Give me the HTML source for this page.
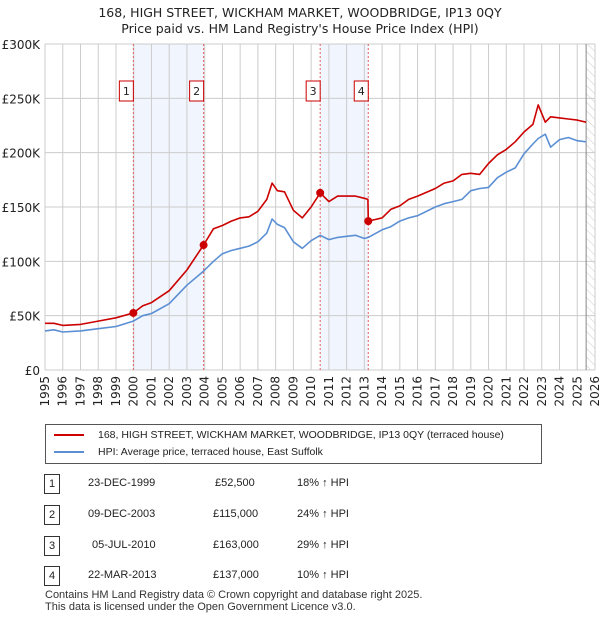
<!DOCTYPE html>
<html><head><meta charset="utf-8"><style>
body{margin:0;background:#fff;font-family:"Liberation Sans","DejaVu Sans",sans-serif;}
#wrap{position:relative;width:600px;height:620px;overflow:hidden;}
svg text{font-family:"DejaVu Sans","Liberation Sans",sans-serif;}
.tbl span{white-space:nowrap;}
</style></head><body>
<div id="wrap">
<svg id="svg" width="600" height="620"></svg>
</div>
<script>
const hpiYears=[1995,1995.5,1996,1997,1998,1999,1999.98,2000.5,2001,2002,2003,2003.94,2004.5,2005,2005.5,2006,2006.5,2007,2007.5,2007.8,2008.1,2008.5,2009,2009.5,2010,2010.51,2011,2011.5,2012,2012.5,2013,2013.22,2014,2014.5,2015,2015.5,2016,2017,2017.5,2018,2018.5,2019,2019.5,2020,2020.5,2021,2021.5,2022,2022.5,2022.8,2023.2,2023.5,2024,2024.5,2025,2025.5];
const hpiValues=[36,37,35,36,38,40,45,50,52,61,78,91,100,107,110,112,114,118,126,139,134,131,118,112,119,124,120,122,123,124,121,122,129,132,137,140,142,150,153,155,157,165,167,168,177,182,186,199,208,213,217,205,212,214,211,210];
const ppYears=[1995,1995.5,1996,1997,1998,1999,1999.98,2000.5,2001,2002,2003,2003.94,2004.5,2005,2005.5,2006,2006.5,2007,2007.5,2007.8,2008.1,2008.5,2009,2009.5,2010,2010.51,2011,2011.5,2012,2012.5,2013,2013.2,2013.22,2014,2014.5,2015,2015.5,2016,2017,2017.5,2018,2018.5,2019,2019.5,2020,2020.5,2021,2021.5,2022,2022.5,2022.8,2023.2,2023.5,2024,2024.5,2025,2025.5];
const ppValues=[43,43,41,42,45,48,52.5,59,62,73,92,115,130,133,137,140,141,146,157,172,165,164,147,140,150,163,155,160,160,160,158,157,137,140,148,151,157,160,167,172,174,180,181,180,190,198,203,210,219,226,244,228,233,232,231,230,228];
const saleYears=[1999.98,2003.94,2010.51,2013.22];
const saleValues=[52.5,115,163,137];
const saleLabels=["1","2","3","4"];
const yTicks=[0,50,100,150,200,250,300];
const yTickLabels=["£0","£50K","£100K","£150K","£200K","£250K","£300K"];
const xTicks=[1995,1996,1997,1998,1999,2000,2001,2002,2003,2004,2005,2006,2007,2008,2009,2010,2011,2012,2013,2014,2015,2016,2017,2018,2019,2020,2021,2022,2023,2024,2025,2026];

const L=45,R=595,T=44,B=370;
const X=y=>L+(y-1995)/(2026-1995)*(R-L);
const Y=v=>B-v/300*(B-T);
const svg=document.getElementById('svg');
const NS='http://www.w3.org/2000/svg';
function mk(tag,attrs,parent){const e=document.createElementNS(NS,tag);for(const k in attrs)e.setAttribute(k,attrs[k]);(parent||svg).appendChild(e);return e;}

let t=mk('text',{x:300,y:17,'text-anchor':'middle','font-size':'12.5',fill:'#222'});t.textContent="168, HIGH STREET, WICKHAM MARKET, WOODBRIDGE, IP13 0QY";

t=mk('text',{x:300,y:33,'text-anchor':'middle','font-size':'12.5',fill:'#222'});t.textContent="Price paid vs. HM Land Registry's House Price Index (HPI)";


for(let i=0;i<4;i+=2){const r=mk('rect',{x:X(saleYears[i]),y:T,width:X(saleYears[i+1])-X(saleYears[i]),height:B-T,fill:'#eef3fd',opacity:0.8});
}
const defs=mk('defs',{});const pat=mk('pattern',{id:'h',width:6,height:6,patternUnits:'userSpaceOnUse',patternTransform:'rotate(-45)'},defs);
mk('line',{x1:0,y1:0,x2:0,y2:6,stroke:'#ccc','stroke-width':1},pat);
const hx=X(2025.5);
let hr=mk('rect',{x:hx,y:T,width:R-hx,height:B-T,fill:'url(#h)'});

xTicks.forEach(y=>{const l=mk('line',{x1:X(y),x2:X(y),y1:T,y2:B,stroke:'#ccc','stroke-width':1});
const tx=mk('text',{transform:`translate(${X(y)+4},${B+6}) rotate(-90)`,'text-anchor':'end','font-size':'12',fill:'#222'});tx.textContent=y;
});
yTicks.forEach((v,i)=>{const l=mk('line',{x1:L,x2:R,y1:Y(v),y2:Y(v),stroke:'#ccc','stroke-width':1});
const tx=mk('text',{x:40,y:Y(v)+5,'text-anchor':'end','font-size':'12',fill:'#222'});tx.textContent=yTickLabels[i];
});
let vl=mk('line',{x1:hx,x2:hx,y1:T,y2:B,stroke:'#888','stroke-width':1});

saleYears.forEach(y=>{const l=mk('line',{x1:X(y),x2:X(y),y1:T,y2:B,stroke:'#e06060','stroke-width':1,'stroke-dasharray':'2,2'});
});

function path(xs,vs,color,name){const d=xs.map((y,i)=>(i?'L':'M')+X(y).toFixed(1)+','+Y(vs[i]).toFixed(1)).join('');
const p=mk('path',{d,fill:'none',stroke:color,'stroke-width':1.6,'stroke-linejoin':'round'});}
path(hpiYears,hpiValues,'#5b8fd4','hpi-line');
path(ppYears,ppValues,'#cc0000','price-paid-line');

saleYears.forEach((y,i)=>{const c=mk('circle',{cx:X(y),cy:Y(saleValues[i]),r:4,fill:'#cc0000'});
const xo=-7;
const g=mk('g',{});
mk('rect',{x:X(y)+xo-7,y:81,width:14,height:20,fill:'#fff',stroke:'#cc0000','stroke-width':1},g);
const tt=mk('text',{x:X(y)+xo,y:95,'text-anchor':'middle','font-size':'11',fill:'#222'},g);tt.textContent=saleLabels[i];});
</script>
<div style="position:absolute;left:45px;top:424px;width:495px;height:38px;border:1px solid #555;font-size:10.5px;color:#222;white-space:nowrap;">
 <div style="position:absolute;left:8px;top:4px;"><span style="display:inline-block;width:30px;height:2px;background:#cc0000;vertical-align:middle;margin-right:14px"></span>168, HIGH STREET, WICKHAM MARKET, WOODBRIDGE, IP13 0QY (terraced house)</div>
 <div style="position:absolute;left:8px;top:21px;"><span style="display:inline-block;width:30px;height:2px;background:#5b8fd4;vertical-align:middle;margin-right:14px"></span>HPI: Average price, terraced house, East Suffolk</div>
</div>
<div class="tbl" style="position:absolute;left:0;top:0;width:600px;font-size:11px;color:#222;">
 <div>
  <span style="position:absolute;left:44px;top:474px;width:14px;height:18px;border:1px solid #333;text-align:center;line-height:18px">1</span>
  <span style="position:absolute;left:88px;top:477px">23-DEC-1999</span><span style="position:absolute;left:215px;top:477px">£52,500</span><span style="position:absolute;left:297px;top:477px">18% ↑ HPI</span></div>
 <div>
  <span style="position:absolute;left:44px;top:505px;width:14px;height:18px;border:1px solid #333;text-align:center;line-height:18px">2</span>
  <span style="position:absolute;left:88px;top:508px">09-DEC-2003</span><span style="position:absolute;left:213px;top:508px">£115,000</span><span style="position:absolute;left:297px;top:508px">24% ↑ HPI</span></div>
 <div>
  <span style="position:absolute;left:44px;top:536px;width:14px;height:18px;border:1px solid #333;text-align:center;line-height:18px">3</span>
  <span style="position:absolute;left:92px;top:539px">05-JUL-2010</span><span style="position:absolute;left:213px;top:539px">£163,000</span><span style="position:absolute;left:297px;top:539px">29% ↑ HPI</span></div>
 <div>
  <span style="position:absolute;left:44px;top:566px;width:14px;height:18px;border:1px solid #333;text-align:center;line-height:18px">4</span>
  <span style="position:absolute;left:88px;top:569px">22-MAR-2013</span><span style="position:absolute;left:213px;top:569px">£137,000</span><span style="position:absolute;left:297px;top:569px">10% ↑ HPI</span></div>
</div>
<div style="position:absolute;left:45px;top:589px;font-size:11px;color:#333;line-height:12px;white-space:nowrap">Contains HM Land Registry data © Crown copyright and database right 2025.<br>This data is licensed under the Open Government Licence v3.0.</div>
</body></html>
